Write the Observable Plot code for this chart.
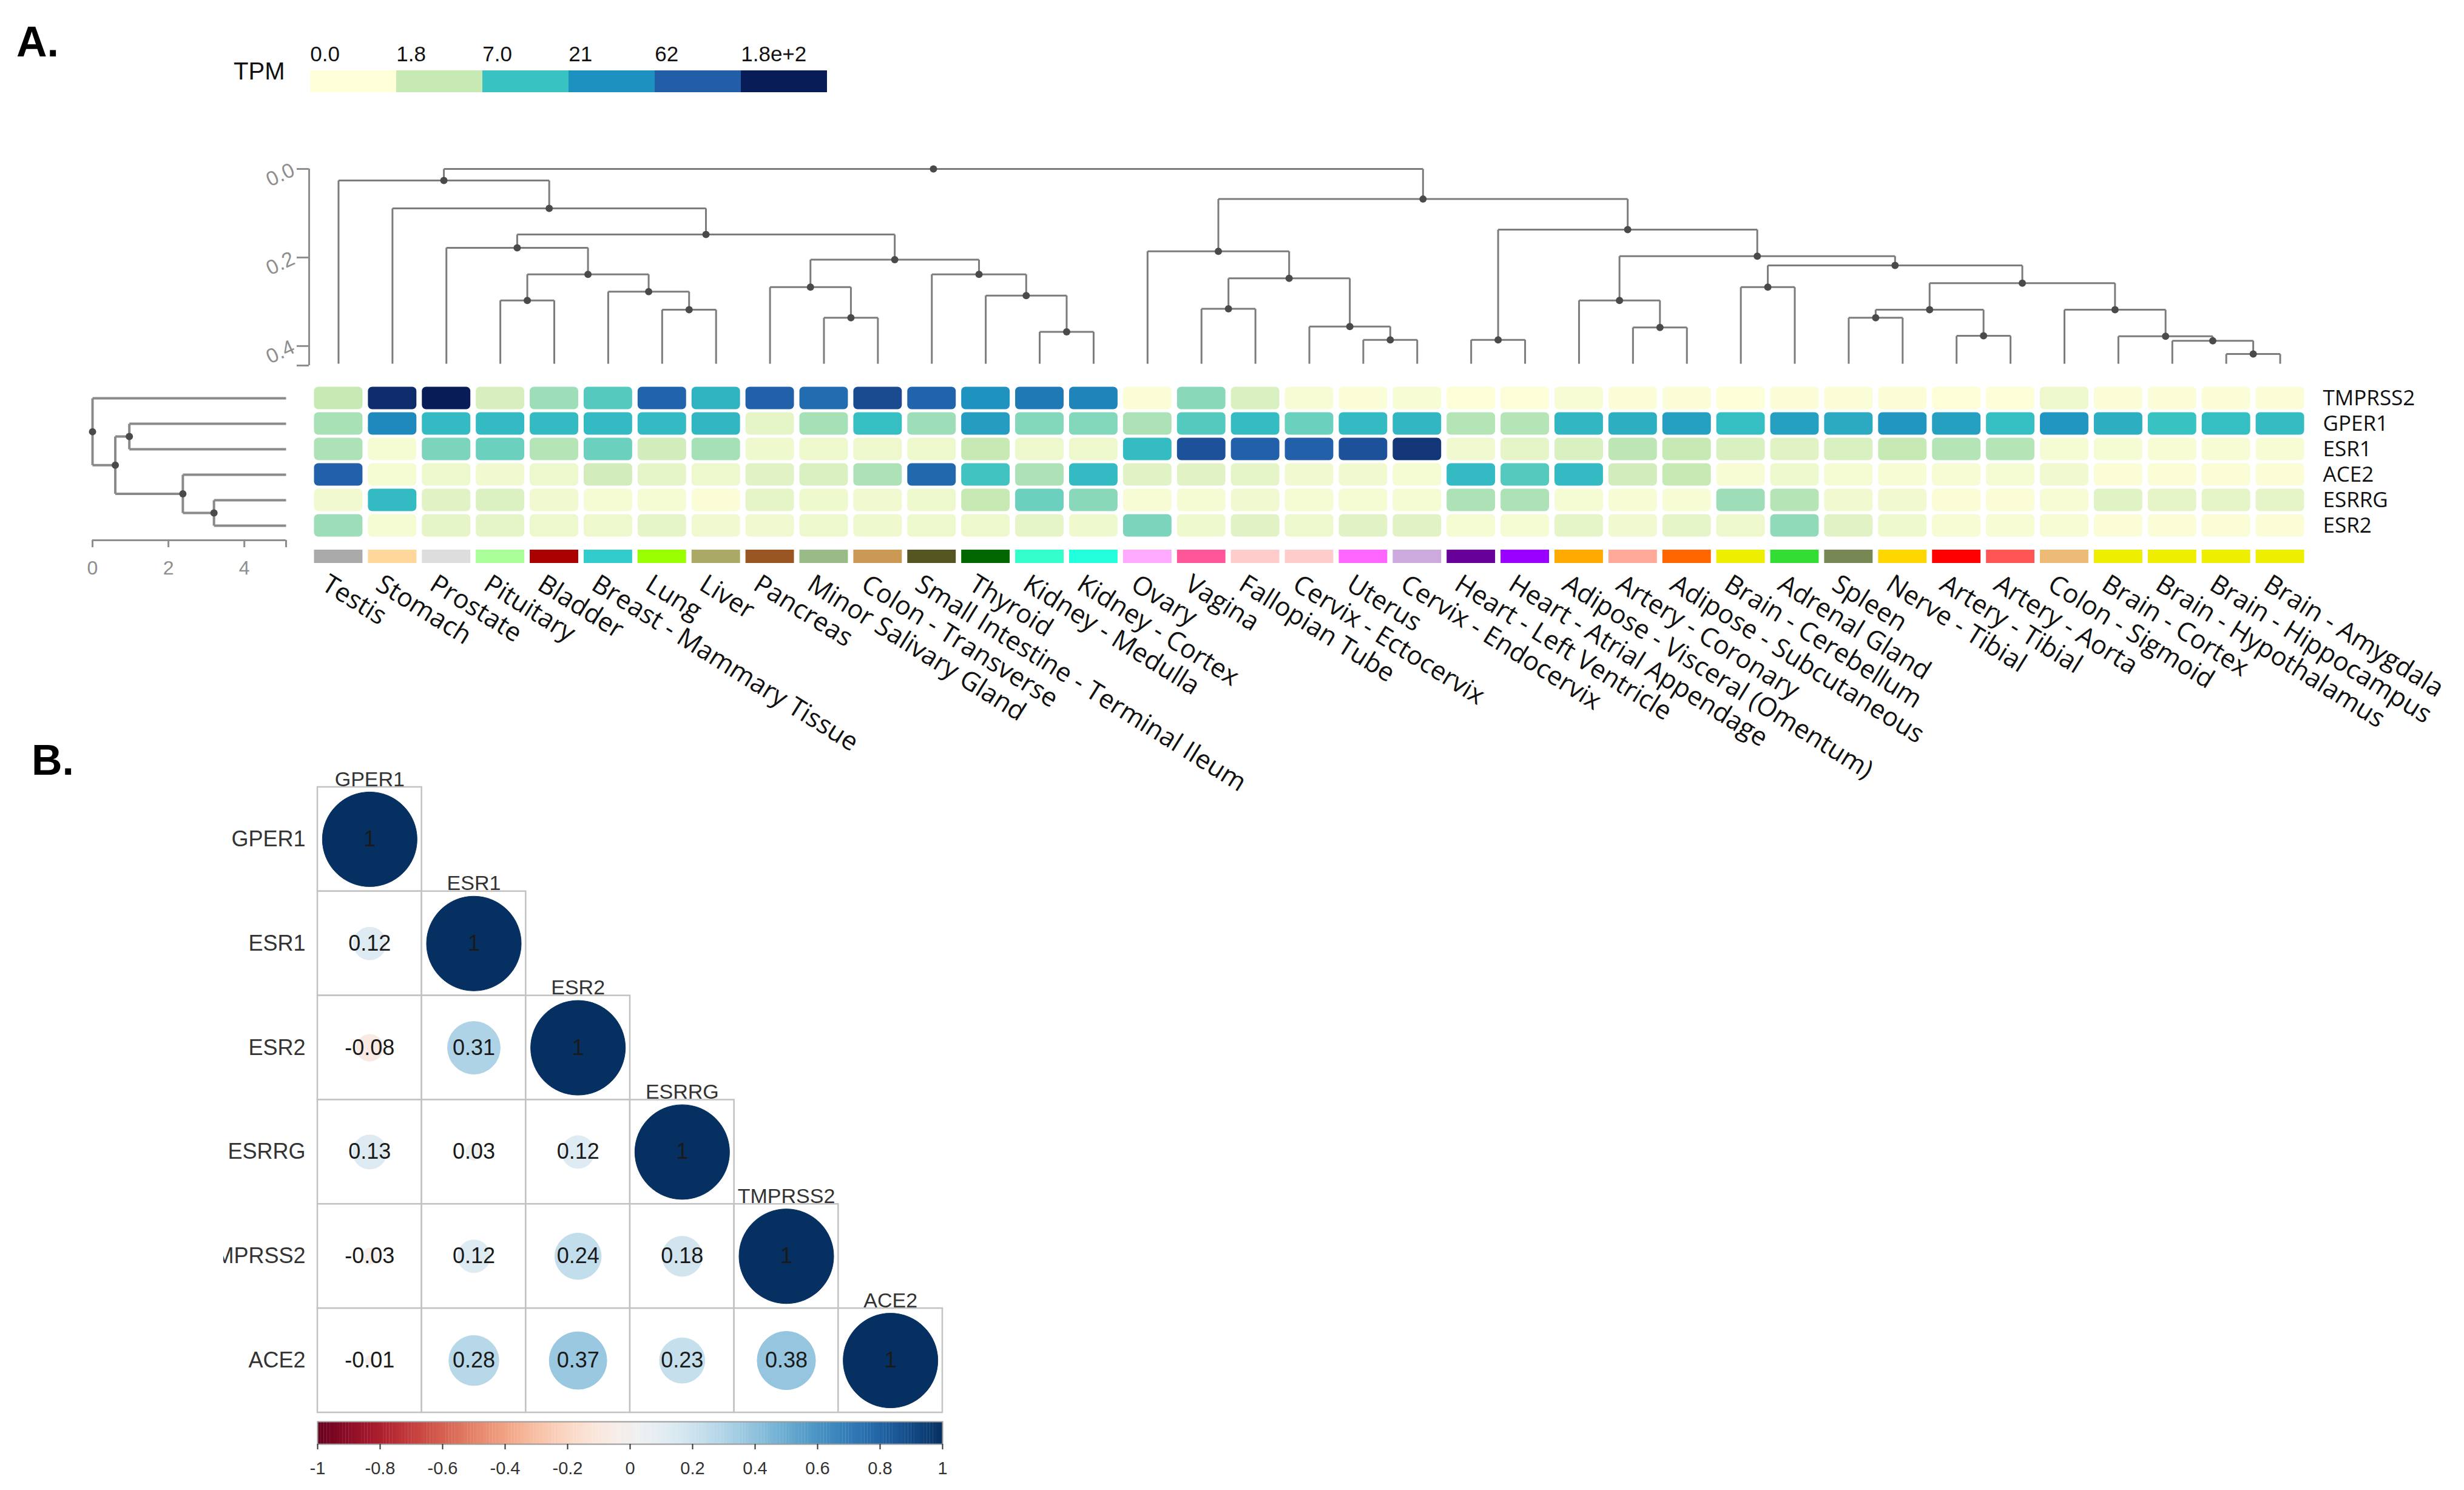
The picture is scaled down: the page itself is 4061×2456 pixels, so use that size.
<!DOCTYPE html>
<html><head><meta charset="utf-8">
<script src="https://cdn.jsdelivr.net/npm/d3@7"></script>
<script src="https://cdn.jsdelivr.net/npm/@observablehq/plot@0.6"></script>
<style>
html,body{margin:0;padding:0;background:#fff;overflow:hidden;}
#fig{position:relative;width:4061px;height:2456px;background:#fff;overflow:hidden;}
#fig > svg{position:absolute;left:0;top:0;}
.lab{position:absolute;font-family:"Liberation Sans",Arial,sans-serif;font-weight:bold;font-size:70px;line-height:1;color:#000;}
</style></head><body><div id="fig"><div class="lab" style="left:27px;top:34px">A.</div><div class="lab" style="left:52px;top:1218px">B.</div></div>
<script>
// ---------------- DATA ----------------
const tissues = ["Testis","Stomach","Prostate","Pituitary","Bladder","Breast - Mammary Tissue","Lung","Liver","Pancreas","Minor Salivary Gland","Colon - Transverse","Small Intestine - Terminal Ileum","Thyroid","Kidney - Medulla","Kidney - Cortex","Ovary","Vagina","Fallopian Tube","Cervix - Ectocervix","Uterus","Cervix - Endocervix","Heart - Left Ventricle","Heart - Atrial Appendage","Adipose - Visceral (Omentum)","Artery - Coronary","Adipose - Subcutaneous","Brain - Cerebellum","Adrenal Gland","Spleen","Nerve - Tibial","Artery - Tibial","Artery - Aorta","Colon - Sigmoid","Brain - Cortex","Brain - Hypothalamus","Brain - Hippocampus","Brain - Amygdala"];
const tissueColors = ["#AAAAAA","#FFD79A","#DDDDDD","#AAFF99","#AA0000","#33CCCC","#99FF00","#AAAA66","#995522","#99BB88","#CC9955","#555522","#006600","#33FFCC","#22FFDD","#FFAAFF","#FF5599","#FFCCCC","#FFCCCC","#FF66FF","#CCAADD","#660099","#9900FF","#FFAA00","#FFAA99","#FF6600","#EEEE00","#33DD33","#778855","#FFD700","#FF0000","#FF5555","#EEBB77","#EEEE00","#EEEE00","#EEEE00","#EEEE00"];
const genes = ["TMPRSS2","GPER1","ESR1","ACE2","ESRRG","ESR2"];
const tpmTMPRSS2 = [1.8,140,200,1.1,2.8,5.5,55,10,60,45,85,55,20,35,28,0.1,3.4,1.0,0.15,0.1,0.15,0.05,0.05,0.15,0.1,0.1,0.05,0.1,0.1,0.1,0.05,0.05,0.4,0.1,0.1,0.1,0.1];
const tpmGPER1   = [2.5,25,8.5,8.5,8.5,8.5,8.5,9,0.6,2.6,7.5,2.8,16,3.6,3.6,2.4,5.5,8,4.5,8.5,9,2.2,2.2,9,11,15,7.5,15,12,19,15,7.5,19,11,7,7.5,8];
const tpmESR1    = [2.4,0.2,3.9,4.5,2.2,4.5,1.3,2.6,0.35,0.4,0.4,0.4,1.8,0.4,0.4,8,75,60,60,75,120,0.3,0.6,1.0,2.0,1.8,1.0,0.75,1.0,1.8,2.2,2.2,0.2,0.2,0.15,0.15,0.15];
const tpmACE2    = [58,0.2,0.4,0.3,0.4,1.3,0.6,0.4,0.75,1.0,2.4,50,6.5,2.4,8.5,0.75,0.75,0.6,0.3,0.3,0.2,8.5,5.5,8.5,1.3,1.8,0.15,0.35,0.2,0.15,0.15,0.2,0.3,0.1,0.1,0.1,0.1];
const tpmESRRG   = [0.3,8.5,0.75,0.9,0.3,0.2,0.2,0.1,0.6,0.35,0.3,0.4,1.8,4.5,3.4,0.15,0.2,0.3,0.2,0.2,0.2,2.4,2.4,0.2,0.15,0.15,2.8,2.2,0.3,0.3,0.1,0.1,0.15,0.75,0.6,0.6,0.6];
const tpmESR2    = [2.8,0.2,0.6,0.6,0.4,0.4,0.6,0.3,0.3,0.4,0.35,0.4,0.4,0.6,0.35,3.9,0.35,0.75,0.4,0.75,0.75,0.2,0.2,0.6,0.3,0.6,0.4,3.2,0.75,0.35,0.15,0.15,0.15,0.1,0.1,0.1,0.1];
const tpmTicks = [0, 1.8, 7, 21, 62, 180];
const tpmTickLabels = ["0.0","1.8","7.0","21","62","1.8e+2"];
const tpmColors = ["#FFFFD9","#C7E9B4","#38C2C2","#1D91C0","#225EA8","#081D58"];
// column dendrogram merges: leaf = tissue index, "nK" = K-th merge
const colMerges = [
  {a:3,b:4,h:0.297},{a:6,b:7,h:0.318},{a:5,b:"n1",h:0.277},{a:"n0",b:"n2",h:0.238},{a:2,b:"n3",h:0.178},
  {a:9,b:10,h:0.336},{a:8,b:"n5",h:0.267},{a:13,b:14,h:0.368},{a:12,b:"n7",h:0.286},{a:11,b:"n8",h:0.238},
  {a:"n6",b:"n9",h:0.205},{a:"n4",b:"n10",h:0.148},{a:1,b:"n11",h:0.089},{a:0,b:"n12",h:0.026},
  {a:16,b:17,h:0.316},{a:19,b:20,h:0.386},{a:18,b:"n15",h:0.356},{a:"n14",b:"n16",h:0.247},{a:15,b:"n17",h:0.186},
  {a:21,b:22,h:0.386},{a:24,b:25,h:0.358},{a:23,b:"n20",h:0.297},{a:26,b:27,h:0.267},{a:28,b:29,h:0.336},
  {a:30,b:31,h:0.377},{a:"n23",b:"n24",h:0.318},{a:35,b:36,h:0.418},{a:34,b:"n26",h:0.388},{a:33,b:"n27",h:0.378},
  {a:32,b:"n28",h:0.318},{a:"n25",b:"n29",h:0.258},{a:"n22",b:"n30",h:0.218},{a:"n21",b:"n31",h:0.197},
  {a:"n19",b:"n32",h:0.137},{a:"n18",b:"n33",h:0.068},{a:"n13",b:"n34",h:0.0}
];
const colLeafHeight = 0.44;
const colDendTicks = [0, 0.2, 0.4, 0.444];
const colDendTickLabels = ["0.0","0.2","0.4",""];
// row dendrogram merges: leaf = gene index
const rowMerges = [{a:1,b:2,h:0.97},{a:4,b:5,h:3.2},{a:3,b:"n1",h:2.38},{a:"n0",b:"n2",h:0.6},{a:0,b:"n3",h:0}];
const rowLeafHeight = 5.1;
const rowDendTicks = [0, 2, 4, 5.1];
const rowDendTickLabels = ["0","2","4",""];
// correlation panel B
const corrGenes = ["GPER1","ESR1","ESR2","ESRRG","TMPRSS2","ACE2"];
const corrGPER1   = [1];
const corrESR1    = [0.12, 1];
const corrESR2    = [-0.08, 0.31, 1];
const corrESRRG   = [0.13, 0.03, 0.12, 1];
const corrTMPRSS2 = [-0.03, 0.12, 0.24, 0.18, 1];
const corrACE2    = [-0.01, 0.28, 0.37, 0.23, 0.38, 1];
const corrTicks = [-1,-0.8,-0.6,-0.4,-0.2,0,0.2,0.4,0.6,0.8,1];
const corrTickLabels = ["-1","-0.8","-0.6","-0.4","-0.2","0","0.2","0.4","0.6","0.8","1"];

// ---------------- LAYOUT ----------------
const W = 4061, H = 2456;
const L = {heatLeft:513, heatRight:3802, heatTop:635, heatBottom:887, dendTop:278, dendBottom:602,
  stripTop:906, stripBottom:928, rowDendLeft:152, rowDendRight:471, legLeft:509, legRight:1364, legTop:116, legBottom:152,
  bLeft:523, bRight:1553, bTop:1297, bBottom:2328, cbTop:2343, cbBottom:2380, bLabClip:368};
function frame(l, r, t, b){ return {width:W, height:H, marginLeft:l, marginRight:W-r, marginTop:t, marginBottom:H-b}; }
const GTEX_FONT = '"Open Sans", "Liberation Sans", sans-serif';
const R_FONT = '"Liberation Sans Narrow", "Liberation Sans", Arial, sans-serif';
const fig = document.getElementById("fig");
const add = p => { p.style.position = "absolute"; p.style.left = "0px"; p.style.top = "0px"; p.style.overflow = "visible"; p.style.background = "transparent"; fig.appendChild(p); };

function buildTree(merges, leafH){
  const nodes = [], segs = [];
  const get = ref => typeof ref === "number" ? {p: ref, h: leafH} : nodes[+ref.slice(1)];
  for (const m of merges){
    const A = get(m.a), B = get(m.b);
    const n = {p:(A.p + B.p)/2, h:m.h};
    nodes.push(n);
    segs.push({p1:A.p, p2:B.p, h1:m.h, h2:m.h});
    segs.push({p1:A.p, p2:A.p, h1:m.h, h2:A.h});
    segs.push({p1:B.p, p2:B.p, h1:m.h, h2:B.h});
  }
  return {nodes, segs};
}
const tpmColor = {type:"symlog", domain:tpmTicks, range:tpmColors, clamp:true};
const corrColor = {type:"linear", domain:[-1,1], scheme:"rdbu"};
const lineCol = "#7c7c7c", dotCol = "#4a4a4a", axisCol = "#8e8e8e";

// ---- TPM legend ----
const legBand = (L.legRight - L.legLeft) / tpmTickLabels.length;
add(Plot.plot({...frame(L.legLeft, L.legRight, L.legTop, L.legBottom),
  style:{fontFamily:'"Liberation Sans", Arial, sans-serif', color:"#111"},
  x:{type:"band", domain:tpmTickLabels, padding:0, axis:null},
  color:tpmColor,
  marks:[
    Plot.cell(tpmTickLabels, {x:d=>d, fill:(d,i)=>tpmTicks[i]}),
    Plot.text(tpmTickLabels, {x:d=>d, frameAnchor:"top", textAnchor:"start", lineAnchor:"bottom", dx:-legBand/2, dy:-16, fontSize:35}),
    Plot.text(["TPM"], {frameAnchor:"left", textAnchor:"end", dx:-40, dy:-16, fontSize:40})
  ]}));

// ---- column dendrogram ----
const colTree = buildTree(colMerges, colLeafHeight);
add(Plot.plot({...frame(L.heatLeft, L.heatRight, L.dendTop, L.dendBottom),
  style:{fontFamily:'"Liberation Sans", Arial, sans-serif', color:axisCol},
  x:{domain:[-0.5, tissues.length-0.5], axis:null},
  y:{domain:[0, 0.444], reverse:true, axis:null},
  marks:[
    Plot.ruleX([-0.5], {y1:0, y2:0.444, stroke:axisCol, strokeWidth:3, dx:-4}),
    Plot.axisY({ticks:colDendTicks, tickFormat:d=>colDendTickLabels[colDendTicks.indexOf(d)], tickSize:20, tickRotate:-25, tickPadding:6, fontSize:34, dx:-4, strokeWidth:3}),
    Plot.link(colTree.segs, {x1:"p1", x2:"p2", y1:"h1", y2:"h2", stroke:lineCol, strokeWidth:3}),
    Plot.dot(colTree.nodes, {x:"p", y:"h", r:6, fill:dotCol})
  ]}));

// ---- row dendrogram ----
const rowTree = buildTree(rowMerges, rowLeafHeight);
add(Plot.plot({...frame(L.rowDendLeft, L.rowDendRight, L.heatTop, L.heatBottom),
  style:{fontFamily:'"Liberation Sans", Arial, sans-serif', color:axisCol},
  x:{domain:[0, rowLeafHeight], axis:null},
  y:{domain:[-0.5, genes.length-0.5], reverse:true, axis:null},
  marks:[
    Plot.link(rowTree.segs, {x1:"h1", x2:"h2", y1:"p1", y2:"p2", stroke:"#8a8a8a", strokeWidth:4}),
    Plot.dot(rowTree.nodes, {x:"h", y:"p", r:6, fill:dotCol}),
    Plot.ruleY([genes.length-0.5], {x1:0, x2:rowLeafHeight, dy:3, stroke:axisCol, strokeWidth:3}),
    Plot.axisX({ticks:rowDendTicks, tickFormat:d=>rowDendTickLabels[rowDendTicks.indexOf(d)], tickSize:12, tickPadding:22, dy:3, fontSize:32, strokeWidth:3})
  ]}));

// ---- heatmap ----
const tpmByGene = {TMPRSS2:tpmTMPRSS2, GPER1:tpmGPER1, ESR1:tpmESR1, ACE2:tpmACE2, ESRRG:tpmESRRG, ESR2:tpmESR2};
const heat = genes.flatMap(g => tissues.map((t,i) => ({gene:g, tissue:t, tpm:tpmByGene[g][i]})));
add(Plot.plot({...frame(L.heatLeft, L.heatRight, L.heatTop, L.heatBottom),
  style:{fontFamily:GTEX_FONT, color:"#111"},
  x:{type:"band", domain:tissues, padding:0, axis:null},
  y:{type:"band", domain:genes, padding:0, axis:null},
  color:tpmColor,
  marks:[
    Plot.cell(heat, {x:"tissue", y:"gene", fill:"tpm", rx:7, ry:7, insetLeft:4.5, insetRight:4.5, insetTop:2.5, insetBottom:2.5}),
    Plot.text(genes, {y:d=>d, frameAnchor:"right", textAnchor:"start", dx:26, fontSize:35, fill:"#111"})
  ]}));

// ---- tissue strip + labels ----
add(Plot.plot({...frame(L.heatLeft, L.heatRight, L.stripTop, L.stripBottom),
  style:{fontFamily:GTEX_FONT, color:"#111"},
  x:{type:"band", domain:tissues, padding:0, axis:null},
  color:{type:"identity"},
  marks:[
    Plot.cell(tissues, {x:d=>d, fill:(d,i)=>tissueColors[i], insetLeft:4.5, insetRight:4.5}),
    Plot.text(tissues, {x:d=>d, frameAnchor:"bottom", rotate:32, textAnchor:"start", lineAnchor:"top", dx:-14, dy:16, fontSize:43, fill:"#111"})
  ]}));

// ---- panel B: correlation ----
const corrRows = [corrGPER1, corrESR1, corrESR2, corrESRRG, corrTMPRSS2, corrACE2];
const corr = corrRows.flatMap((row,i) => row.map((v,j) => ({i, j, v, row:corrGenes[i], col:corrGenes[j]})));
const fmt = v => v === 1 ? "1" : (v < 0 ? "-" : "") + Math.abs(v).toFixed(2);
add(Plot.plot({...frame(L.bLeft, L.bRight, L.bTop, L.bBottom),
  style:{fontFamily:R_FONT, color:"#222"},
  x:{domain:[0, corrGenes.length], axis:null},
  y:{domain:[0, corrGenes.length], reverse:true, axis:null},
  r:{type:"sqrt", domain:[0,1], range:[0,78]},
  color:corrColor,
  marks:[
    Plot.rect(corr, {x1:d=>d.j, x2:d=>d.j+1, y1:d=>d.i, y2:d=>d.i+1, fill:"white", stroke:"#c2c2c2", strokeWidth:2.5}),
    Plot.dot(corr, {x:d=>d.j+0.5, y:d=>d.i+0.5, r:d=>Math.abs(d.v), fill:"v", stroke:"v", strokeWidth:1}),
    Plot.text(corr, {x:d=>d.j+0.5, y:d=>d.i+0.5, text:d=>fmt(d.v), fontSize:36, fill:"#1a1a1a"}),
    Plot.text(corrGenes, {x:(d,i)=>i+0.5, y:(d,i)=>i, lineAnchor:"bottom", dy:-2, fontSize:34, fill:"#333"})
  ]}));
// row labels (clipped on the left like the source)
add(Plot.plot({...frame(L.bLabClip, L.bLeft-20, L.bTop, L.bBottom),
  style:{fontFamily:R_FONT, color:"#333"},
  x:{domain:[0,1], axis:null},
  y:{domain:[0, corrGenes.length], reverse:true, axis:null},
  marks:[ Plot.text(corrGenes, {y:(d,i)=>i+0.5, frameAnchor:"right", textAnchor:"end", fontSize:36, fill:"#333", clip:true}) ]}));
// colour bar
const cbStep = 0.01;
const cbStops = d3.range(-1, 1 - cbStep/2, cbStep);
add(Plot.plot({...frame(L.bLeft, L.bRight, L.cbTop, L.cbBottom),
  style:{fontFamily:R_FONT, color:"#333"},
  x:{domain:[-1,1], axis:null},
  color:corrColor,
  marks:[
    Plot.rect(cbStops, {x1:d=>d, x2:d=>d+cbStep*1.05, fill:d=>d+cbStep/2}),
    Plot.frame({stroke:"#9a9a9a", strokeWidth:2}),
    Plot.axisX({ticks:corrTicks, tickFormat:d=>corrTickLabels[corrTicks.findIndex(t=>Math.abs(t-d)<1e-9)], tickSize:9, tickPadding:20, fontSize:29, strokeWidth:2})
  ]}));
</script></body></html>
